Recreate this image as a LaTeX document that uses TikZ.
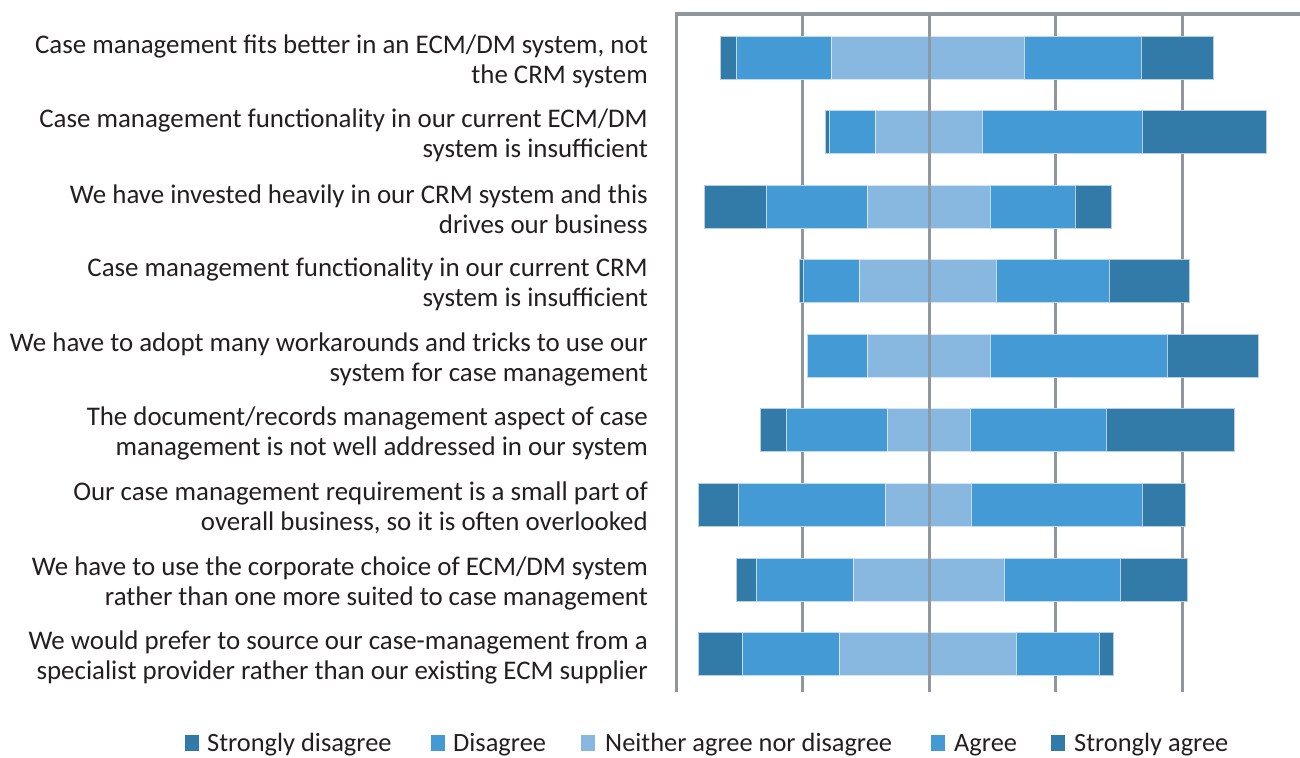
\documentclass[tikz,border=0pt]{standalone}
\usepackage{fontspec}
\setmainfont{Carlito}
\definecolor{sdc}{HTML}{327AA8}
\definecolor{dc}{HTML}{439AD5}
\definecolor{nc}{HTML}{88B7DF}
\definecolor{gridc}{HTML}{8F969C}
\definecolor{txt}{HTML}{231F20}
\tikzset{
  segsd/.style={fill=sdc,draw=white!65!sdc,line width=0.5pt},
  segd/.style={fill=dc,draw=white!65!dc,line width=0.5pt},
  segn/.style={fill=nc,draw=white!65!nc,line width=0.5pt},
  gridline/.style={draw=gridc,line width=3pt},
  rowlabel/.style={anchor=east,align=right,text=txt,font=\fontsize{26.9}{30}\selectfont,inner sep=0pt},
  legtext/.style={anchor=base west,text=txt,font=\fontsize{26.4}{28}\selectfont,inner sep=0pt},
  legbox/.style={minimum width=14pt,minimum height=16pt,inner sep=0pt,anchor=south west}
}
\newcommand\likert[7]{%
  \path[segsd] (#2,#1-21.5) rectangle (#3,#1+21.5);
  \path[segd] (#3,#1-21.5) rectangle (#4,#1+21.5);
  \path[segn] (#4,#1-21.5) rectangle (#5,#1+21.5);
  \path[segd] (#5,#1-21.5) rectangle (#6,#1+21.5);
  \path[segsd] (#6,#1-21.5) rectangle (#7,#1+21.5);
}
\begin{document}
\begin{tikzpicture}[x=1pt,y=-1pt]
\useasboundingbox (0,0) rectangle (1300,757);
% grid
\foreach \gx in {676,802,929,1055,1182}{
  \draw[gridline] (\gx,12) -- (\gx,692);
}
\draw[draw=gridc,line width=3.5pt] (674.5,14) -- (1300,14);
% bars
\likert{57.5}{720}{736}{831}{1024}{1141}{1213}
\likert{132}{825}{829}{875}{982}{1142}{1266}
\likert{206.5}{704}{766}{867}{990}{1075}{1111}
\likert{281}{799}{803}{859}{996}{1109}{1189}
\likert{356}{807}{807}{867}{990}{1167}{1258}
\likert{430}{760}{786}{887}{970}{1106}{1234}
\likert{504.5}{698}{738}{885}{971}{1142}{1185}
\likert{580}{736}{756}{853}{1004}{1120}{1187}
\likert{654}{698}{742}{839}{1016}{1099}{1113}
% zero axis on top
\draw[draw=gridc,line width=3pt,opacity=0.85] (929,12) -- (929,692);
% labels
\node[rowlabel] (l1) at (648,61) {Case management  fits better in an ECM/DM system, not\\the CRM system};
\node[rowlabel] (l2) at (648,135) {Case management  functionality  in our current ECM/DM\\system is insufficient};
\node[rowlabel] (l3) at (648,209.5) {We have invested heavily in our CRM system  and this\\drives our business};
\node[rowlabel] (l4) at (648,284) {Case management  functionality  in our current CRM\\system is insufficient};
\node[rowlabel] (l5) at (648,359) {We have to adopt many workarounds and tricks to use our\\system for case management};
\node[rowlabel] (l6) at (648,433) {The document/records management  aspect of case\\management is not well addressed in our system};
\node[rowlabel] (l7) at (648,507.5) {Our case management  requirement is a small part of\\overall business, so it is often overlooked};
\node[rowlabel] (l8) at (648,583) {We have to use the corporate choice of ECM/DM system\\rather than one more suited to case management};
\node[rowlabel] (l9) at (648,657) {We would prefer to source our case-management  from a\\specialist provider rather than our existing ECM supplier};
% legend
\node[legbox,fill=sdc] (k1) at (185,751) {};
\node[legtext] (t1) at (207,751) {Strongly disagree};
\node[legbox,fill=dc] (k2) at (431,751) {};
\node[legtext] (t2) at (453,751) {Disagree};
\node[legbox,fill=nc] (k3) at (581,751) {};
\node[legtext] (t3) at (605,751) {Neither agree nor disagree};
\node[legbox,fill=dc] (k4) at (931,751) {};
\node[legtext] (t4) at (954,751) {Agree};
\node[legbox,fill=sdc] (k5) at (1051,751) {};
\node[legtext] (t5) at (1074,751) {Strongly agree};
\end{tikzpicture}
\end{document}
